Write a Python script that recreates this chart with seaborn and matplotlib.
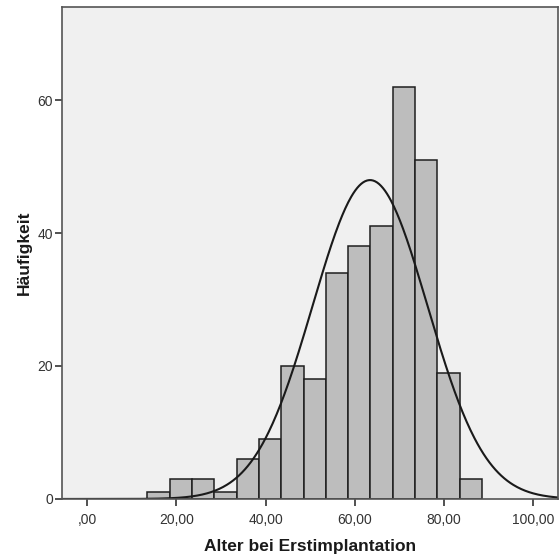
import numpy as np
import pandas as pd
import matplotlib
matplotlib.use("Agg")
import matplotlib.pyplot as plt
import seaborn as sns

# Age at first implantation: 5-year bins and their frequencies
bin_edges = [13.5, 18.5, 23.5, 28.5, 33.5, 38.5, 43.5, 48.5, 53.5, 58.5,
             63.5, 68.5, 73.5, 78.5, 83.5, 88.5]
counts = [1, 3, 3, 1, 6, 9, 20, 18, 34, 38, 41, 62, 51, 19, 3]

# Fitted normal curve parameters
mean_age = 63.4
sd_age = 12.85

x_ticks = [0, 20, 40, 60, 80, 100]
x_tick_labels = [",00", "20,00", "40,00", "60,00", "80,00", "100,00"]
y_ticks = [0, 20, 40, 60]

sns.set_theme(style="white")
plt.rcParams["font.family"] = ["Liberation Sans", "DejaVu Sans"]

centers = [(a + b) / 2 for a, b in zip(bin_edges[:-1], bin_edges[1:])]
df = pd.DataFrame({"alter": centers, "n": counts})

fig = plt.figure(figsize=(5.6, 5.6), dpi=100)
ax = fig.add_axes([0.1107, 0.109, 0.8857, 0.8785])
ax.set_facecolor("#F0F0F0")

sns.histplot(data=df, x="alter", weights="n", bins=bin_edges, ax=ax,
             color="#BDBDBD", alpha=1.0, edgecolor="#1E1E1E", linewidth=1.1)

xlim = (-5.6, 105.5)
xs = np.linspace(xlim[0], xlim[1], 500)
n_total = sum(counts)
width = bin_edges[1] - bin_edges[0]
ys = n_total * width / (sd_age * np.sqrt(2 * np.pi)) * np.exp(-0.5 * ((xs - mean_age) / sd_age) ** 2)
sns.lineplot(x=xs, y=ys, ax=ax, color="#1A1A1A", linewidth=1.5)

ax.set_xlim(*xlim)
ax.set_ylim(0, 74)
ax.set_xticks(x_ticks)
ax.set_xticklabels(x_tick_labels)
ax.set_yticks(y_ticks)
ax.tick_params(axis="both", which="both", direction="out", length=5, width=1.2,
               color="#333333", labelsize=10, labelcolor="#333333",
               bottom=True, left=True)
ax.tick_params(axis="y", pad=1.5)
ax.tick_params(axis="x", pad=5)

for side, sp in ax.spines.items():
    sp.set_visible(True)
    sp.set_color("#555555")
    sp.set_linewidth(1.2)

ax.set_xlabel("Alter bei Erstimplantation", fontsize=12.5, fontweight="bold",
              color="#1A1A1A", labelpad=9)
ax.set_ylabel("Häufigkeit", fontsize=12.5, fontweight="bold",
              color="#1A1A1A", labelpad=4)

fig.savefig("out.png", dpi=100)
